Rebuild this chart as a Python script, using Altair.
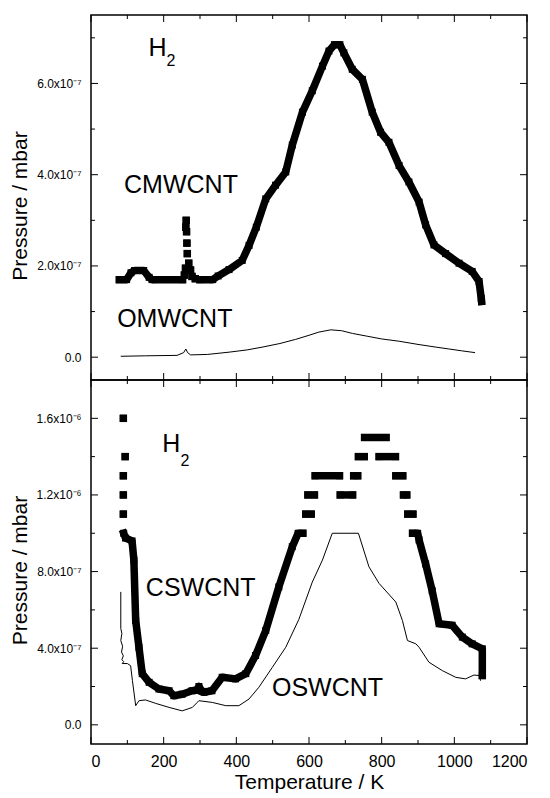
import json
import altair as alt
import pandas as pd

# ---------------- axes ----------------
x_major = [0, 200, 400, 600, 800, 1000, 1200]
x_minor = [100, 300, 500, 700, 900, 1100]

top_y_major = [0, 2e-7, 4e-7, 6e-7]
top_y_minor = [1e-7, 3e-7, 5e-7, 7e-7]
top_y_labels = ["0.0", "2.0x10⁻⁷", "4.0x10⁻⁷", "6.0x10⁻⁷"]

bot_y_major = [0, 4e-7, 8e-7, 1.2e-6, 1.6e-6]
bot_y_minor = [2e-7, 6e-7, 1e-6, 1.4e-6]
bot_y_labels = ["0.0", "4.0x10⁻⁷", "8.0x10⁻⁷", "1.2x10⁻⁶", "1.6x10⁻⁶"]

# ---------------- top panel: MWCNT (pressure in 1e-7 mbar) ----------------
cm_T = [78, 98, 110, 120, 145, 160, 168, 252,
        257, 260, 261, 262, 263, 264, 265, 269, 274, 278, 287,
        300, 335, 350, 380, 416, 435, 455, 481, 508, 536, 554, 582, 609, 637, 655,
        670, 685, 696, 719, 747, 774, 797, 820, 848, 875, 903, 921, 944, 976,
        1013, 1049, 1068, 1074, 1075]
cm_P = [1.70, 1.70, 1.85, 1.90, 1.90, 1.75, 1.70, 1.70,
        1.80, 1.95, 2.85, 3.00, 2.75, 2.50, 2.27, 2.06, 1.91, 1.77, 1.72,
        1.70, 1.70, 1.78, 1.92, 2.12, 2.45, 2.85, 3.47, 3.77, 4.06, 4.65, 5.37, 5.84, 6.38, 6.71,
        6.85, 6.85, 6.67, 6.31, 6.09, 5.37, 4.93, 4.71, 4.20, 3.84, 3.40, 2.90, 2.46, 2.27,
        2.06, 1.88, 1.66, 1.29, 1.22]
cm_seg = [0, 0, 0, 0, 0, 0, 0, 0,
          1, 2, 3, 4, 5, 6, 7, 8, 9, 10, 11,
          12, 12, 12, 12, 12, 12, 12, 12, 12, 12, 12, 12, 12, 12, 12,
          12, 12, 12, 12, 12, 12, 12, 12, 12, 12, 12, 12, 12, 12,
          12, 12, 12, 12, 12]

om_T = [82, 150, 237, 255, 261, 266, 274, 320, 380, 430, 471, 520, 563, 600, 627,
        660, 690, 720, 760, 800, 848, 900, 950, 985, 1020, 1057]
om_P = [0.02, 0.03, 0.04, 0.10, 0.18, 0.10, 0.05, 0.06, 0.11, 0.16, 0.22, 0.30, 0.39, 0.48, 0.55,
        0.60, 0.58, 0.52, 0.46, 0.40, 0.35, 0.28, 0.22, 0.18, 0.14, 0.10]

# ---------------- bottom panel: SWCNT (pressure in 1e-6 mbar) ----------------
cs_T = [89, 94, 89, 89, 89,
        90, 95, 113, 118, 123, 132, 141, 160, 187, 215, 228, 251, 278, 290, 297, 305, 311,
        333, 361, 398, 426, 453, 481, 517, 554, 570, 583,
        591, 606,
        597, 615,
        617, 684,
        686, 720,
        723, 734,
        736, 752,
        753, 812,
        793, 838,
        839, 858,
        860, 869,
        872, 886,
        885, 899, 903, 921, 939, 958, 994, 1022, 1049, 1077, 1077]
cs_P = [1.6, 1.4, 1.3, 1.2, 1.1,
        1.0, 0.975, 0.96, 0.86, 0.545, 0.405, 0.267, 0.222, 0.187, 0.178, 0.152, 0.16, 0.178, 0.18, 0.2, 0.175, 0.17,
        0.178, 0.248, 0.24, 0.267, 0.362, 0.493, 0.72, 0.93, 1.0, 1.0,
        1.1, 1.1,
        1.2, 1.2,
        1.3, 1.3,
        1.2, 1.2,
        1.3, 1.3,
        1.4, 1.4,
        1.5, 1.5,
        1.4, 1.4,
        1.3, 1.3,
        1.2, 1.2,
        1.1, 1.1,
        1.0, 1.0, 0.965, 0.84, 0.70, 0.528, 0.52, 0.458, 0.423, 0.397, 0.257]
cs_seg = [0, 1, 2, 3, 4,
          5, 5, 5, 5, 5, 5, 5, 5, 5, 5, 5, 5, 5, 5, 5, 5, 5,
          5, 5, 5, 5, 5, 5, 5, 5, 5, 5,
          6, 6,
          7, 7,
          8, 8,
          9, 9,
          10, 10,
          11, 11,
          12, 12,
          13, 13,
          14, 14,
          15, 15,
          16, 16,
          17, 17, 17, 17, 17, 17, 17, 17, 17, 17, 17]

os_T = [82, 82, 85, 82, 87, 84, 89, 85, 90, 86, 100, 109, 114, 123, 132, 150, 178, 215, 251,
        279, 297, 334, 371, 407, 435, 462, 499, 536, 572, 609, 637, 664, 736, 765, 793,
        839, 857, 871, 894, 903, 930, 967, 1004, 1031, 1054, 1070, 1072]
os_P = [0.694, 0.503, 0.477, 0.44, 0.41, 0.38, 0.36, 0.34, 0.33, 0.32, 0.32, 0.309, 0.231, 0.10,
        0.126, 0.13, 0.112, 0.091, 0.073, 0.091, 0.126, 0.117, 0.10, 0.10, 0.135, 0.196, 0.30,
        0.405, 0.55, 0.745, 0.86, 1.0, 1.0, 0.825, 0.738, 0.641, 0.545, 0.44, 0.423, 0.405,
        0.327, 0.283, 0.248, 0.24, 0.26, 0.257, 0.23]

# ---------------- annotation texts ----------------
top_text = ["H", "CMWCNT", "OMWCNT"]
top_text_T = [158, 91, 72]
top_text_P = [6.78e-7, 3.77e-7, 0.83e-7]
top_sub_text = ["2"]
top_sub_T = [208]
top_sub_P = [6.50e-7]

bot_text = ["H", "CSWCNT", "OSWCNT"]
bot_text_T = [196, 151, 498]
bot_text_P = [1.468e-6, 0.713e-6, 0.194e-6]
bot_sub_text = ["2"]
bot_sub_T = [246]
bot_sub_P = [1.375e-6]

W, H1, H2 = 436, 365, 364
FONT = "Liberation Sans"
MAJ, MIN = 7, 4


def frame_df(T, P, scale, seg=None):
    d = pd.DataFrame({"T": T, "P": [p * scale for p in P]})
    d["i"] = range(len(d))
    d["seg"] = seg if seg is not None else 0
    return d


def ticks(h, y_major, y_minor):
    xs = pd.DataFrame({"T": x_major + x_minor,
                       "len": [MAJ] * len(x_major) + [MIN] * len(x_minor)})
    ys = pd.DataFrame({"P": y_major + y_minor,
                       "len": [MAJ] * len(y_major) + [MIN] * len(y_minor)})
    layers = []
    for L in (MAJ, MIN):
        xd = xs[xs["len"] == L]
        yd = ys[ys["len"] == L]
        layers.append(alt.Chart(xd).mark_rule(color="black", strokeWidth=1).encode(
            x="T:Q", y=alt.value(h), y2=alt.value(h - L)))
        layers.append(alt.Chart(xd).mark_rule(color="black", strokeWidth=1).encode(
            x="T:Q", y=alt.value(0), y2=alt.value(L)))
        layers.append(alt.Chart(yd).mark_rule(color="black", strokeWidth=1).encode(
            y="P:Q", x=alt.value(0), x2=alt.value(L)))
        layers.append(alt.Chart(yd).mark_rule(color="black", strokeWidth=1).encode(
            y="P:Q", x=alt.value(W), x2=alt.value(W - L)))
    return layers


def label_expr(values, labels):
    return f"{json.dumps(labels, ensure_ascii=False)}[indexof({json.dumps(values)}, datum.value)]"


def panel(thick, thin, ydom, h, y_major, y_minor, y_labels, texts, subs, bottom):
    xax = alt.Axis(values=x_major, format="d", ticks=False, domain=False, grid=False,
                   labelFontSize=16, labelFont=FONT, labelPadding=9, labelColor="black",
                   title="Temperature / K", titleFont=FONT, titleFontSize=21,
                   titleFontWeight="normal", titlePadding=2, titleColor="black") if bottom else None
    xenc = alt.X("T:Q", scale=alt.Scale(domain=[0, 1200], nice=False, zero=False), axis=xax)
    yenc = alt.Y("P:Q", scale=alt.Scale(domain=ydom, nice=False, zero=False),
                 axis=alt.Axis(values=y_major, ticks=False, domain=False, grid=False,
                               labelExpr=label_expr(y_major, y_labels),
                               labelFontSize=12, labelFont=FONT, labelPadding=10,
                               labelColor="black",
                               title="Pressure / mbar", titleFont=FONT, titleFontSize=21,
                               titleFontWeight="normal", titlePadding=6, titleColor="black",
                               titleY=h / 2 + 8))
    thick_line = alt.Chart(thick).mark_line(color="black", strokeWidth=7.5,
                                           strokeCap="square", strokeJoin="round").encode(
        x=xenc, y=yenc, detail="seg:N", order="i:Q")
    thick_pts = alt.Chart(thick).mark_point(shape="square", filled=True, size=49,
                                            color="black", opacity=1).encode(x="T:Q", y="P:Q")
    thin_line = alt.Chart(thin).mark_line(color="black", strokeWidth=1).encode(
        x="T:Q", y="P:Q", order="i:Q")
    t, tT, tP = texts
    s, sT, sP = subs
    big = alt.Chart(pd.DataFrame({"text": t, "T": tT, "P": tP})).mark_text(
        font=FONT, fontSize=25, align="left", baseline="middle", color="black").encode(
        x="T:Q", y="P:Q", text="text:N")
    small = alt.Chart(pd.DataFrame({"text": s, "T": sT, "P": sP})).mark_text(
        font=FONT, fontSize=16, align="left", baseline="middle", color="black").encode(
        x="T:Q", y="P:Q", text="text:N")
    return alt.layer(thick_line, thick_pts, thin_line, big, small,
                     *ticks(h, y_major, y_minor)).properties(width=W, height=h)


top = panel(frame_df(cm_T, cm_P, 1e-7, cm_seg), frame_df(om_T, om_P, 1e-7),
            [-0.5e-7, 7.5e-7], H1, top_y_major, top_y_minor, top_y_labels,
            (top_text, top_text_T, top_text_P), (top_sub_text, top_sub_T, top_sub_P), False)
bot = panel(frame_df(cs_T, cs_P, 1e-6, cs_seg), frame_df(os_T, os_P, 1e-6),
            [-1e-7, 1.8e-6], H2, bot_y_major, bot_y_minor, bot_y_labels,
            (bot_text, bot_text_T, bot_text_P), (bot_sub_text, bot_sub_T, bot_sub_P), True)

chart = alt.vconcat(top, bot, spacing=0, bounds="flush").properties(
    padding={"left": 0, "top": 5, "right": 5, "bottom": 0},
    background="white",
).configure_view(stroke="black", strokeWidth=1.5)

chart.save("out.html", embed_options={"renderer": "svg", "actions": False})
